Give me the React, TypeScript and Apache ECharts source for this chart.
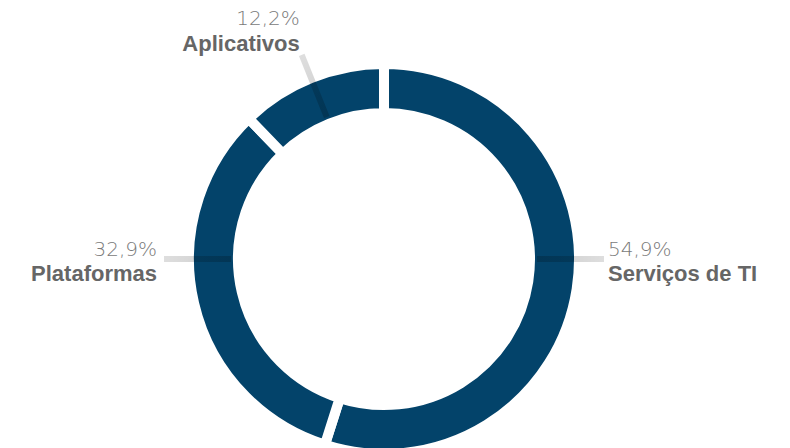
import React, { useEffect, useRef } from "react";
import * as echarts from "echarts";

const categories = ["Serviços de TI", "Plataformas", "Aplicativos"];
const shares = [54.9, 32.9, 12.2];

const CX = 384;
const CY = 259;
const R_OUT = 190;
const R_IN = 151;
const GAP = 10;
const LINE_R0 = 153;
const LINE_R1 = 220;
const RING_COLOR = "#03436a";

const fmtPct = (v: number) => v.toFixed(1).replace(".", ",") + "%";

function midAngle(i: number) {
  const total = shares.reduce((a, b) => a + b, 0);
  let before = 0;
  for (let k = 0; k < i; k++) before += shares[k];
  return 90 - ((before + shares[i] / 2) / total) * 360;
}

// label anchor angle per slice (side labels sit horizontally)
function anchorAngle(i: number) {
  if (i === 0) return 0;
  if (i === 1) return 180;
  return midAngle(i);
}

function pt(angleDeg: number, r: number): [number, number] {
  const a = (angleDeg * Math.PI) / 180;
  return [CX + r * Math.cos(a), CY - r * Math.sin(a)];
}

export default function App() {
  const ref = useRef<HTMLDivElement>(null);
  useEffect(() => {
    if (!ref.current) return;
    const chart = echarts.init(ref.current, undefined, { renderer: "svg" });
    const ringData = categories.map((name, i) => ({ name, value: shares[i] }));
    const labelData = categories.map((name, i) => {
      const ang = anchorAngle(i);
      const p0 = pt(ang, LINE_R0);
      const p1 = pt(ang, LINE_R1);
      return {
        name,
        value: shares[i],
        labelLine: {
          lineStyle: {
            color: new echarts.graphic.LinearGradient(
              p0[0],
              p0[1],
              p1[0],
              p1[1],
              [
                { offset: 0, color: "rgba(0,0,0,0.2)" },
                { offset: 1, color: "rgba(0,0,0,0.13)" },
              ],
              true
            ),
          },
        },
      };
    });
    chart.setOption({
      animation: false,
      series: [
        {
          type: "pie",
          z: 2,
          center: [CX, CY],
          radius: [R_IN - GAP / 2, R_OUT + GAP / 2],
          startAngle: 90,
          clockwise: true,
          silent: true,
          itemStyle: {
            color: RING_COLOR,
            borderColor: "#ffffff",
            borderWidth: GAP,
          },
          label: { show: false },
          labelLine: { show: false },
          data: ringData,
        },
        {
          type: "pie",
          z: 3,
          center: [CX, CY],
          radius: [R_IN, R_OUT],
          startAngle: 90,
          clockwise: true,
          silent: true,
          itemStyle: { color: "rgba(0,0,0,0)", borderWidth: 0 },
          label: {
            show: true,
            position: "outside",
            formatter: (p: any) => `{p|${fmtPct(p.value)}}\n{n|${p.name}}`,
            rich: {
              p: {
                fontFamily: "DejaVu Sans",
                fontWeight: 200,
                fontSize: 20,
                lineHeight: 25,
                color: "#7a7a7a",
              },
              n: {
                fontFamily: "Liberation Sans",
                fontWeight: "bold",
                fontSize: 22,
                lineHeight: 25,
                color: "#666666",
              },
            },
          },
          labelLine: {
            show: true,
            length: 20,
            length2: 10,
            lineStyle: { width: 6, cap: "butt" },
          },
          labelLayout: (params: any) => {
            const i = params.dataIndex;
            const ang = anchorAngle(i);
            const p0 = pt(ang, LINE_R0);
            const p1 = pt(ang, LINE_R1);
            if (i === 0) {
              return {
                x: p1[0] + 4,
                y: CY - 23,
                align: "left",
                verticalAlign: "top",
                labelLinePoints: [p0, p1],
              };
            }
            if (i === 1) {
              return {
                x: p1[0] - 7,
                y: CY - 23,
                align: "right",
                verticalAlign: "top",
                labelLinePoints: [p1, p0],
              };
            }
            return {
              x: p1[0] - 2,
              y: p1[1] + 1,
              align: "right",
              verticalAlign: "bottom",
              labelLinePoints: [p0, p1],
            };
          },
          data: labelData,
        },
      ],
    });
    return () => chart.dispose();
  }, []);
  return (
    <div
      ref={ref}
      style={{ position: "absolute", left: 0, top: 0, width: 790, height: 448 }}
    />
  );
}
